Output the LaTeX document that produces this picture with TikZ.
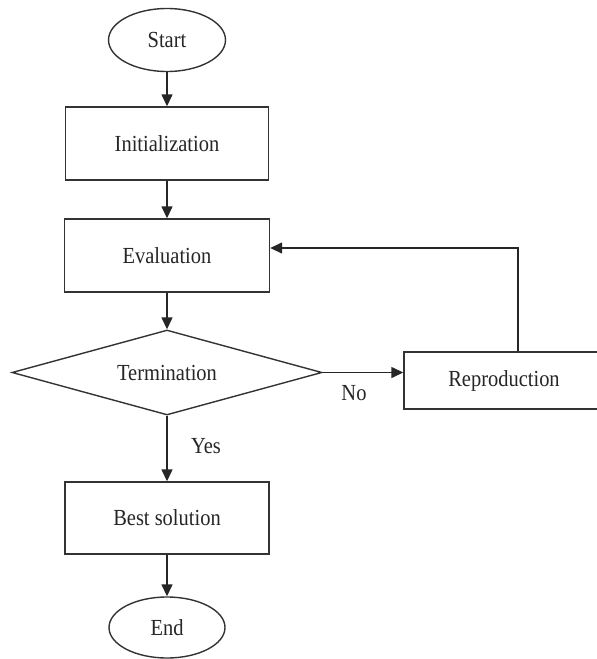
\documentclass[tikz,border=0pt]{standalone}
\usepackage{fontspec}
\setmainfont{Liberation Serif}[FakeStretch=0.89]
\usetikzlibrary{shapes.geometric,arrows.meta,calc}
\begin{document}
\begin{tikzpicture}[x=1pt,y=-1pt,
  every node/.style={font=\fontsize{23}{26}\selectfont, text=black!85},
  box/.style={draw=black!80, line width=1.4pt, rectangle, inner sep=0pt},
  oval/.style={draw=black!80, line width=1.4pt, ellipse, inner sep=0pt},
  dec/.style={draw=black!80, line width=1.4pt, diamond, aspect=3.647, inner sep=0pt},
  conn/.style={draw=black!85, line width=1.4pt, -{Triangle[length=12pt,width=11pt]}},
  lbl/.style={inner sep=0pt}]
\useasboundingbox (0,0) rectangle (597,659);
\fill[white] (0,0) rectangle (597,659);
\node[oval, minimum width=117pt, minimum height=63pt] (start) at (167,40) {Start};
\node[box, minimum width=203pt, minimum height=73pt] (init) at (167,143.5) {Initialization};
\node[box, minimum width=205pt, minimum height=73pt] (eval) at (167,255.5) {Evaluation};
\node[dec, minimum width=310pt, minimum height=85pt] (term) at (167,372.5) {Termination};
\node[box, minimum width=196pt, minimum height=57pt] (repro) at (502,380.5) {};
\node[lbl] (reprotext) at (504,381) {Reproduction};
\node[box, minimum width=204pt, minimum height=72pt] (best) at (167,518) {Best solution};
\node[oval, minimum width=116pt, minimum height=61pt] (end) at (167,627.5) {End};
\node[lbl] (no) at (354,393) {No};
\node[lbl] (yes) at (206,446) {Yes};
\coordinate (loopup) at (518,248);
\draw[conn] (start) -- (init);
\draw[conn] (init) -- (eval);
\draw[conn] (eval) -- (term);
\draw[conn] (term.east) -- (term.east -| repro.west);
\draw[conn] (repro.north -| loopup) -- (loopup) -- (eval.east |- loopup);
\draw[conn] (term) -- (best);
\draw[conn] (best) -- (end);
\end{tikzpicture}
\end{document}
